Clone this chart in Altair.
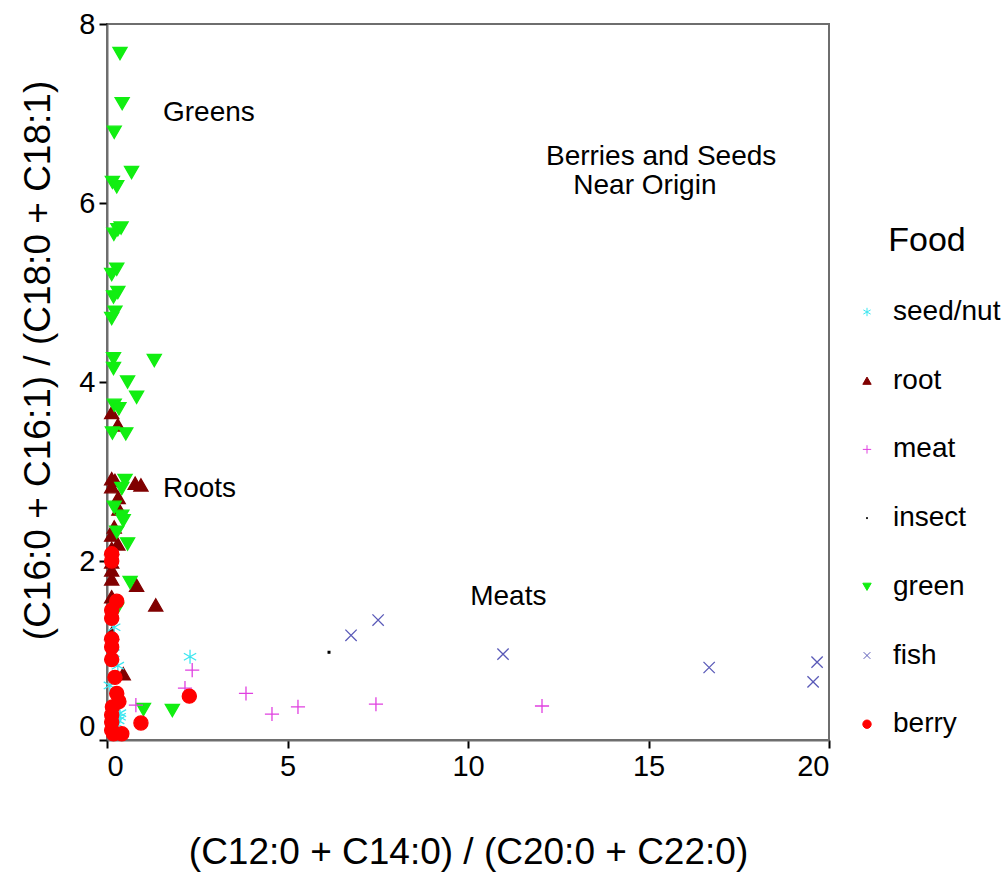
import altair as alt
import pandas as pd

# ---- data ----
seed_x = [0.20, 0.18, 2.30, 0.30, 0.08, 0.36, 0.31, 0.24, 0.15, 0.10, 0.35]
seed_y = [1.26, 0.97, 0.93, 0.83, 0.61, 0.30, 0.22, 0.19, 0.25, 0.15, 0.26]

root_x = [0.13, 0.30, 0.13, 0.22, 0.13, 0.78, 0.94, 0.31, 0.33, 0.20, 0.13,
          0.30, 0.13, 0.13, 0.13, 0.13, 0.82, 0.13, 1.35, 0.13, 0.45]
root_y = [3.66, 3.52, 2.92, 2.90, 2.83, 2.87, 2.85, 2.71, 2.58, 2.38, 2.29,
          2.19, 2.14, 1.99, 1.90, 1.80, 1.73, 1.60, 1.51, 1.19, 0.74]

meat_x = [2.36, 2.16, 0.80, 3.85, 4.57, 5.29, 7.45, 12.05]
meat_y = [0.78, 0.58, 0.39, 0.52, 0.29, 0.37, 0.40, 0.38]

insect_x = [6.15]
insect_y = [0.98]

green_x = [0.36, 0.42, 0.20, 0.68, 0.15, 0.27, 0.19, 0.30, 0.39, 0.27, 0.13,
           0.30, 0.18, 0.22, 0.13, 0.18, 0.18, 1.31, 0.57, 0.82, 0.20, 0.33,
           0.15, 0.52, 0.50, 0.41, 0.20, 0.41, 0.45, 0.27, 0.57, 0.64, 0.27,
           1.01, 1.81]
green_y = [7.67, 7.11, 6.79, 6.34, 6.23, 6.18, 5.65, 5.70, 5.72, 5.26, 5.20,
           5.00, 4.95, 4.78, 4.71, 4.26, 4.15, 4.24, 4.00, 3.83, 3.74, 3.70,
           3.43, 3.42, 2.90, 2.81, 2.60, 2.50, 2.45, 2.32, 2.19, 1.76, 1.46,
           0.34, 0.33]

fish_x = [6.76, 7.51, 10.97, 16.68, 19.67, 19.56]
fish_y = [1.17, 1.34, 0.96, 0.81, 0.87, 0.65]

berry_x = [0.13, 0.13, 0.27, 0.13, 0.13, 0.13, 0.13, 0.22, 0.27, 2.28, 0.33,
           0.15, 0.13, 0.94, 0.18, 0.41, 0.13, 0.13, 0.13]
berry_y = [2.08, 2.00, 1.55, 1.45, 1.36, 1.13, 1.04, 0.70, 0.52, 0.49, 0.43,
           0.37, 0.28, 0.19, 0.07, 0.07, 0.11, 0.90, 0.20]

foods = ["seed/nut", "root", "meat", "insect", "green", "fish", "berry"]
series = {
    "seed/nut": (seed_x, seed_y),
    "root": (root_x, root_y),
    "meat": (meat_x, meat_y),
    "insect": (insect_x, insect_y),
    "green": (green_x, green_y),
    "fish": (fish_x, fish_y),
    "berry": (berry_x, berry_y),
}

stroke_colors = ["#3ce6f0", "#800000", "#e040e0", "#000000", "#11ee11", "#5a5ab8", "#ff0000"]
fill_colors = ["transparent", "#800000", "transparent", "#000000", "#11ee11", "transparent", "#ff0000"]
shapes = [
    "M0,-1L0,1M-0.87,-0.5L0.87,0.5M-0.87,0.5L0.87,-0.5",
    "triangle-up",
    "M-1,0L1,0M0,-1L0,1",
    "M-0.12,-0.12L0.12,-0.12L0.12,0.12L-0.12,0.12Z",
    "triangle-down",
    "M-0.8,-0.8L0.8,0.8M-0.8,0.8L0.8,-0.8",
    "circle",
]

ann_text = ["Greens", "Roots", "Meats"]
ann_x = [1.55, 1.55, 10.06]
ann_y = [7.01, 2.80, 1.60]
ann2_text = ["Berries and Seeds", "Near Origin"]
ann2_x = [15.35, 14.9]
ann2_y = [6.51, 6.19]

rows = []
draw_order = ["root", "green", "seed/nut", "meat", "insect", "fish", "berry"]
for f in draw_order:
    xs, ys = series[f]
    for a, b in zip(xs, ys):
        rows.append({"x": a, "y": b, "Food": f})
df = pd.DataFrame(rows)

FONT = "Liberation Sans"

xscale = alt.Scale(domain=[0, 20], nice=False, zero=False)
yscale = alt.Scale(domain=[0, 8], nice=False, zero=False)

LEG = dict(title="Food", orient="none", legendX=746, legendY=200)

points = alt.Chart(df).mark_point(opacity=1, strokeWidth=1.3, size=200).encode(
    x=alt.X("x:Q", scale=xscale,
            axis=alt.Axis(values=[0, 5, 10, 15, 20], format="d",
                          title="(C12:0 + C14:0) / (C20:0 + C22:0)",
                          titleX=361, titleY=112, titleBaseline="middle", titleAnchor="middle")),
    y=alt.Y("y:Q", scale=yscale,
            axis=alt.Axis(values=[0, 2, 4, 6, 8], format="d",
                          title="(C16:0 + C16:1) / (C18:0 + C18:1)",
                          titleX=-69, titleY=336, titleAngle=-90, titleBaseline="middle",
                          labelOffset={"condition": {"test": "datum.value == 0", "value": -14}, "value": 0})),
    shape=alt.Shape("Food:N", scale=alt.Scale(domain=foods, range=shapes), legend=alt.Legend(**LEG)),
    stroke=alt.Stroke("Food:N", scale=alt.Scale(domain=foods, range=stroke_colors), legend=alt.Legend(**LEG)),
    fill=alt.Fill("Food:N", scale=alt.Scale(domain=foods, range=fill_colors), legend=alt.Legend(**LEG)),
)

ann1 = alt.Chart(pd.DataFrame({"t": ann_text, "x": ann_x, "y": ann_y})).mark_text(
    align="left", baseline="middle", fontSize=28, font=FONT, color="black"
).encode(x=alt.X("x:Q", scale=xscale), y=alt.Y("y:Q", scale=yscale), text="t:N")

ann2 = alt.Chart(pd.DataFrame({"t": ann2_text, "x": ann2_x, "y": ann2_y})).mark_text(
    align="center", baseline="middle", fontSize=28, font=FONT, color="black"
).encode(x=alt.X("x:Q", scale=xscale), y=alt.Y("y:Q", scale=yscale), text="t:N")

chart = alt.layer(points, ann1, ann2).properties(
    width=722, height=716,
    autosize=alt.AutoSizeParams(type="none"),
    padding={"left": 107, "top": 24, "right": 179, "bottom": 133},
    background="white",
).configure_view(
    stroke="#6e6e6e", strokeWidth=2
).configure_axis(
    grid=False,
    domainColor="#6e6e6e", domainWidth=2,
    tickColor="black", tickWidth=2, tickSize=8,
    labelFont=FONT, labelFontSize=29, labelColor="black", labelPadding=4,
    titleFont=FONT, titleFontSize=37, titleColor="black", titleFontWeight="normal",
).configure_legend(
    titleFont=FONT, titleFontSize=34, titleFontWeight="normal", titleColor="black",
    titleAnchor="middle", titlePadding=40,
    labelFont=FONT, labelFontSize=28, labelColor="black",
    symbolSize=70, symbolStrokeWidth=1, rowPadding=40.7, labelOffset=12,
)

chart.save("out.html", embed_options={"renderer": "svg", "actions": False})
